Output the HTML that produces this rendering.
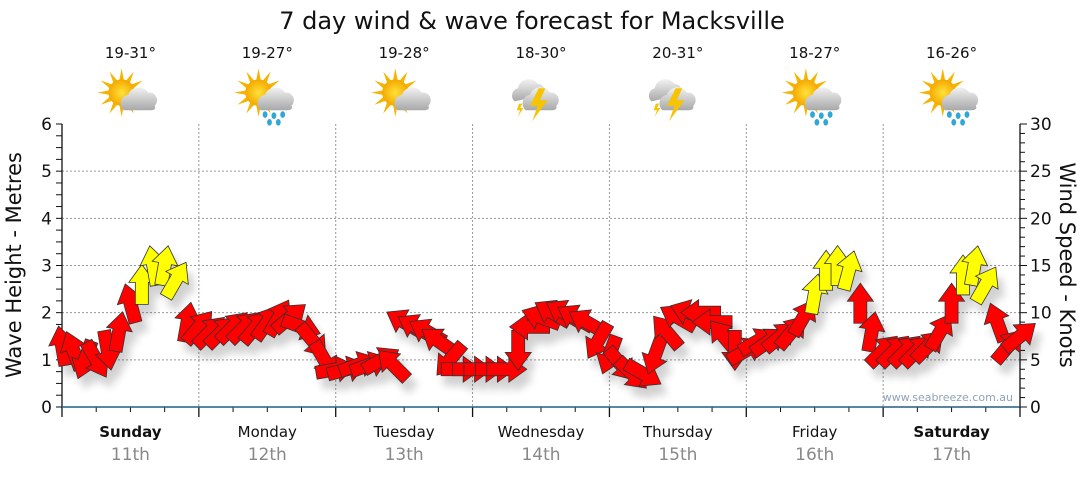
<!DOCTYPE html>
<html><head><meta charset="utf-8">
<style>
html,body{margin:0;padding:0;background:#fff;}
body{width:1080px;height:475px;overflow:hidden;font-family:"Liberation Sans","DejaVu Sans",sans-serif;}
svg text{font-family:"DejaVu Sans","Liberation Sans",sans-serif;}
</style></head>
<body>
<svg id="chart" width="1080" height="475" viewBox="0 0 1080 475" xmlns="http://www.w3.org/2000/svg">
<defs>
<filter id="sh" x="-50%" y="-50%" width="200%" height="200%">
<feGaussianBlur in="SourceAlpha" stdDeviation="4"/>
<feOffset dx="6" dy="10" result="b"/>
<feComponentTransfer><feFuncA type="linear" slope="0.18"/></feComponentTransfer>
<feMerge><feMergeNode/><feMergeNode in="SourceGraphic"/></feMerge>
</filter>
<radialGradient id="sun" cx="0.5" cy="0.5" r="0.5"><stop offset="0" stop-color="#ffe23a"/><stop offset="1" stop-color="#f5a800"/></radialGradient>
<linearGradient id="cloud" x1="0" y1="0" x2="0" y2="1"><stop offset="0" stop-color="#f2f2f2"/><stop offset="1" stop-color="#a8a8a8"/></linearGradient>
</defs>
<text x="532" y="29" font-size="24" text-anchor="middle" fill="#111">7 day wind &amp; wave forecast for Macksville</text>
<g id="grid"></g>
<g id="axes"></g>
<g id="icons"></g>
<g id="arrows" filter="url(#sh)"></g>
<text x="1013" y="401" font-size="11" text-anchor="end" fill="#8fa3b8">www.seabreeze.com.au</text>
<text transform="translate(21,265) rotate(-90)" font-size="21" text-anchor="middle" fill="#111">Wave Height - Metres</text>
<text transform="translate(1060,265) rotate(90)" font-size="21" text-anchor="middle" fill="#111">Wind Speed - Knots</text>
</svg>
<script>
const days = ["Sunday","Monday","Tuesday","Wednesday","Thursday","Friday","Saturday"];
const dates = ["11th","12th","13th","14th","15th","16th","17th"];
const boldDays = [true,false,false,false,false,false,true];
const temps = ["19-31°","19-27°","19-28°","18-30°","20-31°","18-27°","16-26°"];
const icons = ["sun-cloud","sun-rain","sun-cloud","storm","storm","sun-rain","sun-rain"];
const waveTicks = [0,1,2,3,4,5,6];
const windTicks = [0,5,10,15,20,25,30];
// wind every 2 hours: speed (knots) and arrow direction (deg, 0=up, clockwise)
const windSpeed = [
 6.5,6,5,5,6,8,11,13,15,15,13.5,9,
 8.5,8,8,8.5,8.5,8.5,9,9.5,9.5,8.5,7,5,
 4,4,4.5,4.5,5,4.5,9,8.5,8,7,5,4,
 4,4,4,4,6,8.5,9.5,10,10,9.5,9,7,
 5.5,4.5,3.5,3.5,5.5,8,9.5,10,10,9,7.5,6,
 6,7,7,7.5,8,9.5,12,14.5,15,14.5,11,8,
 6,6,6,6,6.5,8,11,14,15,13,9,6.5,7.5];
const windDir = [
 -10,-20,200,150,170,10,-15,0,-10,10,30,10,
 40,45,45,45,45,40,35,30,50,110,140,150,
 80,75,70,70,60,-45,-60,-60,-60,-55,220,90,
 90,90,90,90,180,270,290,300,300,300,300,210,
 200,140,135,120,200,-40,-60,-70,-90,-90,-40,180,
 60,60,55,50,40,30,10,0,0,15,0,10,
 45,45,45,45,45,30,0,0,10,30,-20,40,50];

const NS="http://www.w3.org/2000/svg";
const X0=62, X1=1020, Y0=407, Y6=124;
const dayW=(X1-X0)/7;
const yWave=v=>Y0-(Y0-Y6)*v/6;
const yWind=v=>Y0-(Y0-Y6)*v/30;
const xHour=h=>X0+dayW*h/24;
function mk(tag,attrs,parent){const e=document.createElementNS(NS,tag);for(const k in attrs)e.setAttribute(k,attrs[k]);parent.appendChild(e);return e;}
const grid=document.getElementById('grid'), axes=document.getElementById('axes');

waveTicks.forEach(v=>{
  if(v>0&&v<6){
    const l=mk('line',{x1:X0,x2:X1,y1:yWave(v),y2:yWave(v),stroke:'#999','stroke-width':1,'stroke-dasharray':'2,2'},grid);
    
    
  }
  const t=mk('text',{x:X0-10,y:yWave(v)+6,'font-size':17,'text-anchor':'end',fill:'#111'},axes);
  t.textContent=v;
  
  
});
for(let q=0;q<=24;q++){const y=yWave(q/4);mk('line',{x1:X0-6,x2:X0,y1:y,y2:y,stroke:'#111'},axes);}
mk('line',{x1:X0,x2:X0,y1:Y6,y2:Y0,stroke:'#111','stroke-width':1.3},axes);
windTicks.forEach(v=>{
  const t=mk('text',{x:X1+10,y:yWind(v)+6,'font-size':17,'text-anchor':'start',fill:'#111'},axes);
  t.textContent=v;
  
  
});
for(let k=0;k<=30;k++){const y=yWind(k);mk('line',{x1:X1,x2:X1+(k%5?5:7),y1:y,y2:y,stroke:'#111'},axes);}
mk('line',{x1:X1,x2:X1,y1:Y6,y2:Y0,stroke:'#111','stroke-width':1.3},axes);

for(let d=0;d<7;d++){
  const xs=X0+d*dayW;
  if(d>0){
    const g=mk('line',{x1:xs,x2:xs,y1:Y6,y2:Y0,stroke:'#999','stroke-dasharray':'2,2'},grid);
    
    
  }
  mk('line',{x1:xs,x2:xs,y1:Y0,y2:Y0+10,stroke:'#111','stroke-width':1.3},axes);
  for(let q=1;q<4;q++){const x=xs+q*dayW/4;mk('line',{x1:x,x2:x,y1:Y0,y2:Y0+5,stroke:'#111'},axes);}
  const cx=xs+dayW/2;
  const dl=mk('text',{x:cx,y:437,'font-size':15,'text-anchor':'middle',fill:'#111','font-weight':boldDays[d]?'bold':'normal'},axes);
  dl.textContent=days[d];
  
  
  const dt=mk('text',{x:cx,y:460,'font-size':17,'text-anchor':'middle',fill:'#888'},axes);
  dt.textContent=dates[d];
  
  
  const tt=mk('text',{x:cx,y:58,'font-size':15,'text-anchor':'middle',fill:'#111'},axes);
  tt.textContent=temps[d];
  
  
  drawIcon(cx,97,icons[d]);
}
mk('line',{x1:X0,x2:X1,y1:Y0,y2:Y0,stroke:'#1f5f86','stroke-width':1.5},axes);
mk('line',{x1:X1,x2:X1,y1:Y0,y2:Y0+10,stroke:'#111','stroke-width':1.3},axes);

function drawIcon(cx,cy,type){
  const g=mk('g',{transform:`translate(${cx},${cy}) scale(1.1)`},document.getElementById('icons'));
  
  
  if(type!=='storm'){
    for(let i=0;i<12;i++){const a=i*30*Math.PI/180;mk('polygon',{points:`${-8+Math.cos(a)*22},${-4+Math.sin(a)*22} ${-8+Math.cos(a+0.2)*11},${-4+Math.sin(a+0.2)*11} ${-8+Math.cos(a-0.2)*11},${-4+Math.sin(a-0.2)*11}`,fill:'#f5b400'},g);}
    mk('circle',{cx:-8,cy:-4,r:12,fill:'url(#sun)'},g);
    mk('path',{d:'M-6,12 a8,8 0 0 1 4,-14 a10,10 0 0 1 18,-2 a7,7 0 0 1 6,12 q2,4 -4,4 z',fill:'url(#cloud)'},g);
    if(type==='sun-rain'){[[-2,16],[6,17],[14,16],[2,23],[10,23]].forEach(p=>mk('ellipse',{cx:p[0],cy:p[1],rx:2.2,ry:3,fill:'#33a6d8'},g));}
  } else {
    mk('path',{d:'M-24,4 a7,7 0 0 1 3,-12 a10,10 0 0 1 18,-4 a7,7 0 0 1 6,10 z',fill:'url(#cloud)'},g);
    mk('path',{d:'M-14,12 a8,8 0 0 1 4,-14 a10,10 0 0 1 18,-2 a7,7 0 0 1 6,12 q1,4 -4,4 z',fill:'url(#cloud)'},g);
    mk('polygon',{points:'-2,-8 -10,8 -3,8 -8,22 6,3 -1,3 4,-8',fill:'#f6c400'},g);
    mk('polygon',{points:'-20,6 -22,12 -19,12 -21,18 -16,10 -19,10 -17,6',fill:'#f6c400'},g);
  }
}

const arrowsG=document.getElementById('arrows');
windSpeed.forEach((s,i)=>{
  const x=xHour(i*2), y=yWind(s);
  const col=s>=12?'#ffff00':'#ff0000';
  const p=mk('polygon',{points:'-6.5,20 6.5,20 6.5,-2 13,-2 0,-20 -13,-2 -6.5,-2',fill:col,stroke:'#333','stroke-width':0.8,transform:`translate(${x},${y}) rotate(${windDir[i]})`},arrowsG);
  
  
});
</script>
</body></html>
